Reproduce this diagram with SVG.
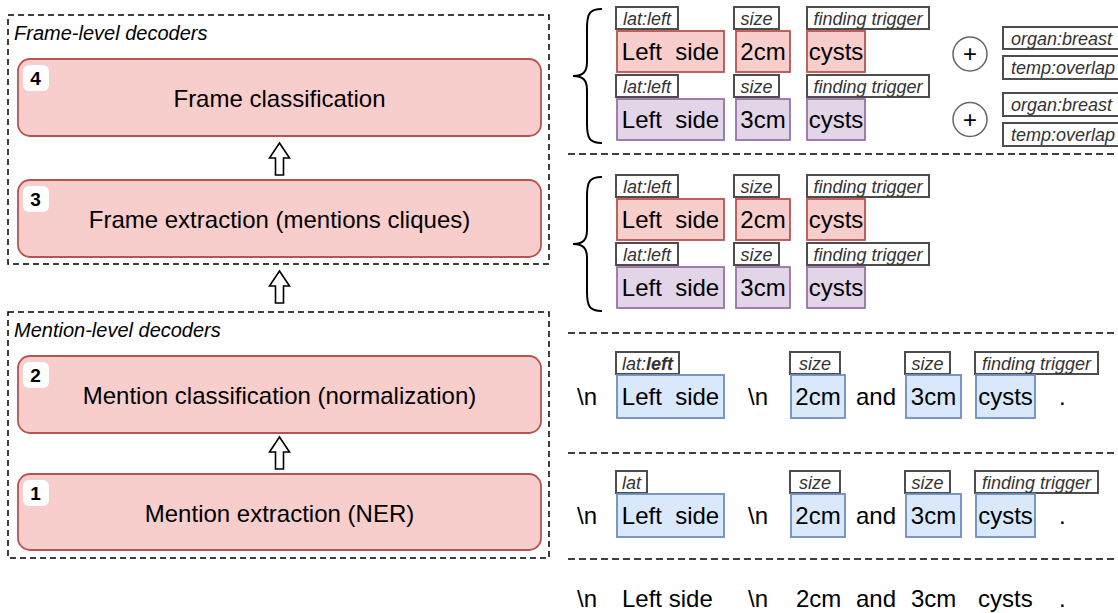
<svg xmlns="http://www.w3.org/2000/svg" width="1118" height="613" viewBox="0 0 1118 613">
<defs>
<style>
text{font-family:"Liberation Sans",Arial,Helvetica,sans-serif;fill:#000}
.grp{fill:none;stroke:#000;stroke-width:1.5;stroke-dasharray:6 4}
.sep{fill:none;stroke:#000;stroke-width:1.5;stroke-dasharray:7 4}
.title{font-size:20px;font-style:italic}
.main{fill:#f8cecc;stroke:#b85450;stroke-width:1.8}
.badge{fill:#fff;stroke:none}
.num{font-size:19px;font-weight:bold;text-anchor:middle}
.mtxt{font-size:24px;text-anchor:middle}
.arrow{fill:#fff;stroke:#000;stroke-width:1.6;stroke-linejoin:miter}
.lab{fill:#fff;stroke:#4d4d4d;stroke-width:2}
.ltxt{font-size:18px;font-style:italic;fill:#333;text-anchor:middle}
.ltxtl{font-size:18px;font-style:italic;fill:#333}
.red{fill:#f8cecc;stroke:#b85450;stroke-width:1.8}
.pur{fill:#e1d5e7;stroke:#9673a6;stroke-width:1.8}
.blu{fill:#dae8fc;stroke:#6c8ebf;stroke-width:1.8}
.tok{font-size:24px;text-anchor:middle}
.plain{font-size:24px}
.brace{fill:none;stroke:#000;stroke-width:2}
.plus{fill:#fff;stroke:#666;stroke-width:1.5}
</style>
</defs>

<!-- Left: decoder stack -->
<g id="frame-level-group">
<rect class="grp" x="8" y="15" width="541" height="249"/>
<text class="title" x="14" y="40">Frame-level decoders</text>
</g>
<g id="mention-level-group">
<rect class="grp" x="8" y="312" width="541" height="246"/>
<text class="title" x="14" y="337">Mention-level decoders</text>
</g>

<g id="node4">
<rect class="main" x="18" y="59" width="523" height="77" rx="12"/>
<rect class="badge" x="23" y="65" width="26" height="26" rx="6"/>
<text class="num" x="35.5" y="85">4</text>
<text class="mtxt" x="279.5" y="106.5">Frame classification</text>
</g>
<g id="node3">
<rect class="main" x="18" y="180" width="523" height="77" rx="12"/>
<rect class="badge" x="23" y="186" width="26" height="26" rx="6"/>
<text class="num" x="35.5" y="206">3</text>
<text class="mtxt" x="279.5" y="227.5">Frame extraction (mentions cliques)</text>
</g>
<g id="node2">
<rect class="main" x="18" y="356" width="523" height="77" rx="12"/>
<rect class="badge" x="23" y="362" width="26" height="26" rx="6"/>
<text class="num" x="35.5" y="382">2</text>
<text class="mtxt" x="279.5" y="403.5">Mention classification (normalization)</text>
</g>
<g id="node1">
<rect class="main" x="18" y="474" width="523" height="76" rx="12"/>
<rect class="badge" x="23" y="480" width="26" height="26" rx="6"/>
<text class="num" x="35.5" y="500">1</text>
<text class="mtxt" x="279.5" y="521.5">Mention extraction (NER)</text>
</g>

<g id="connectors">
<polygon class="arrow" points="279.5,143 289.5,158 283.5,158 283.5,175 275.5,175 275.5,158 269.5,158"/>
<polygon class="arrow" points="279.5,271 289.5,286 283.5,286 283.5,303 275.5,303 275.5,286 269.5,286"/>
<polygon class="arrow" points="279.5,437 289.5,452 283.5,452 283.5,469 275.5,469 275.5,452 269.5,452"/>
</g>

<!-- Right: separators -->
<g id="separators">
<line class="sep" x1="568" y1="154" x2="1118" y2="154"/>
<line class="sep" x1="568" y1="333" x2="1118" y2="333"/>
<line class="sep" x1="568" y1="453" x2="1118" y2="453"/>
<line class="sep" x1="568" y1="559" x2="1118" y2="559"/>
</g>

<!-- Level 4: frame classification -->
<g id="level4">
<path class="brace" d="M602,9 C590,9 587,13 587,28 L587,62 C587,72 583,76 573,76 C583,76 587,80 587,90 L587,124 C587,139 590,143 602,143"/>
<rect class="lab" x="616" y="7" width="62" height="22"/><text class="ltxt" x="647" y="24.5">lat:left</text>
<rect class="lab" x="734" y="7" width="45" height="22"/><text class="ltxt" x="756.5" y="24.5">size</text>
<rect class="lab" x="807" y="7" width="122" height="22"/><text class="ltxt" x="868" y="24.5">finding trigger</text>
<rect class="red" x="617" y="31" width="107" height="41"/><text class="tok" x="670.5" y="60">Left&#160; side</text>
<rect class="red" x="736" y="31" width="54" height="41"/><text class="tok" x="763" y="60">2cm</text>
<rect class="red" x="807" y="31" width="58" height="41"/><text class="tok" x="836" y="60">cysts</text>
<rect class="lab" x="616" y="75" width="62" height="22"/><text class="ltxt" x="647" y="92.5">lat:left</text>
<rect class="lab" x="734" y="75" width="45" height="22"/><text class="ltxt" x="756.5" y="92.5">size</text>
<rect class="lab" x="807" y="75" width="122" height="22"/><text class="ltxt" x="868" y="92.5">finding trigger</text>
<rect class="pur" x="617" y="99" width="107" height="41"/><text class="tok" x="670.5" y="128">Left&#160; side</text>
<rect class="pur" x="736" y="99" width="54" height="41"/><text class="tok" x="763" y="128">3cm</text>
<rect class="pur" x="807" y="99" width="58" height="41"/><text class="tok" x="836" y="128">cysts</text>
<circle class="plus" cx="970" cy="54" r="17"/><text class="tok" x="970" y="62">+</text>
<circle class="plus" cx="970" cy="119.5" r="17"/><text class="tok" x="970" y="127.5">+</text>
<rect class="lab" x="1003" y="27" width="125" height="22"/><text class="ltxtl" x="1011" y="44.5">organ:breast</text>
<rect class="lab" x="1003" y="56" width="125" height="23"/><text class="ltxtl" x="1011" y="73.5">temp:overlap</text>
<rect class="lab" x="1003" y="93" width="125" height="23"/><text class="ltxtl" x="1011" y="110.5">organ:breast</text>
<rect class="lab" x="1003" y="123" width="125" height="23"/><text class="ltxtl" x="1011" y="140.5">temp:overlap</text>
</g>

<!-- Level 3: frame extraction -->
<g id="level3">
<path class="brace" d="M602,177 C590,177 587,181 587,196 L587,230 C587,240 583,244 573,244 C583,244 587,248 587,258 L587,292 C587,307 590,311 602,311"/>
<rect class="lab" x="616" y="175" width="62" height="22"/><text class="ltxt" x="647" y="192.5">lat:left</text>
<rect class="lab" x="734" y="175" width="45" height="22"/><text class="ltxt" x="756.5" y="192.5">size</text>
<rect class="lab" x="807" y="175" width="122" height="22"/><text class="ltxt" x="868" y="192.5">finding trigger</text>
<rect class="red" x="617" y="199" width="107" height="41"/><text class="tok" x="670.5" y="228">Left&#160; side</text>
<rect class="red" x="736" y="199" width="54" height="41"/><text class="tok" x="763" y="228">2cm</text>
<rect class="red" x="807" y="199" width="58" height="41"/><text class="tok" x="836" y="228">cysts</text>
<rect class="lab" x="616" y="243" width="62" height="22"/><text class="ltxt" x="647" y="260.5">lat:left</text>
<rect class="lab" x="734" y="243" width="45" height="22"/><text class="ltxt" x="756.5" y="260.5">size</text>
<rect class="lab" x="807" y="243" width="122" height="22"/><text class="ltxt" x="868" y="260.5">finding trigger</text>
<rect class="pur" x="617" y="267" width="107" height="41"/><text class="tok" x="670.5" y="296">Left&#160; side</text>
<rect class="pur" x="736" y="267" width="54" height="41"/><text class="tok" x="763" y="296">3cm</text>
<rect class="pur" x="807" y="267" width="58" height="41"/><text class="tok" x="836" y="296">cysts</text>
</g>

<!-- Level 2: mention classification -->
<g id="level2">
<text class="plain" x="577" y="405">\n</text>
<rect class="lab" x="616" y="352" width="63" height="22"/><text class="ltxt" x="647.5" y="369.5">lat:<tspan font-weight="bold">left</tspan></text>
<rect class="blu" x="617" y="375" width="107" height="43"/><text class="tok" x="670.5" y="405">Left&#160; side</text>
<text class="plain" x="748" y="405">\n</text>
<rect class="lab" x="790" y="352" width="50" height="22"/><text class="ltxt" x="815" y="369.5">size</text>
<rect class="blu" x="791" y="375" width="54" height="43"/><text class="tok" x="818" y="405">2cm</text>
<text class="plain" x="856" y="405">and</text>
<rect class="lab" x="905" y="352" width="45" height="22"/><text class="ltxt" x="927.5" y="369.5">size</text>
<rect class="blu" x="906" y="375" width="55" height="43"/><text class="tok" x="933.5" y="405">3cm</text>
<rect class="lab" x="975" y="352" width="123" height="22"/><text class="ltxt" x="1036.5" y="369.5">finding trigger</text>
<rect class="blu" x="976" y="375" width="59" height="43"/><text class="tok" x="1005.5" y="405">cysts</text>
<text class="plain" x="1059" y="405">.</text>
</g>

<!-- Level 1: mention extraction -->
<g id="level1">
<text class="plain" x="577" y="524">\n</text>
<rect class="lab" x="616" y="471" width="31" height="22"/><text class="ltxt" x="631.5" y="488.5">lat</text>
<rect class="blu" x="617" y="494" width="107" height="43"/><text class="tok" x="670.5" y="524">Left&#160; side</text>
<text class="plain" x="748" y="524">\n</text>
<rect class="lab" x="790" y="471" width="50" height="22"/><text class="ltxt" x="815" y="488.5">size</text>
<rect class="blu" x="791" y="494" width="54" height="43"/><text class="tok" x="818" y="524">2cm</text>
<text class="plain" x="856" y="524">and</text>
<rect class="lab" x="905" y="471" width="45" height="22"/><text class="ltxt" x="927.5" y="488.5">size</text>
<rect class="blu" x="906" y="494" width="55" height="43"/><text class="tok" x="933.5" y="524">3cm</text>
<rect class="lab" x="975" y="471" width="123" height="22"/><text class="ltxt" x="1036.5" y="488.5">finding trigger</text>
<rect class="blu" x="976" y="494" width="59" height="43"/><text class="tok" x="1005.5" y="524">cysts</text>
<text class="plain" x="1059" y="524">.</text>
</g>

<!-- Level 0: raw text -->
<g id="raw-text">
<text class="plain" x="577" y="607">\n</text>
<text class="plain" x="622" y="607">Left side</text>
<text class="plain" x="748" y="607">\n</text>
<text class="plain" x="796" y="607">2cm</text>
<text class="plain" x="856" y="607">and</text>
<text class="plain" x="911" y="607">3cm</text>
<text class="plain" x="978" y="607">cysts</text>
<text class="plain" x="1059" y="607">.</text>
</g>
</svg>
